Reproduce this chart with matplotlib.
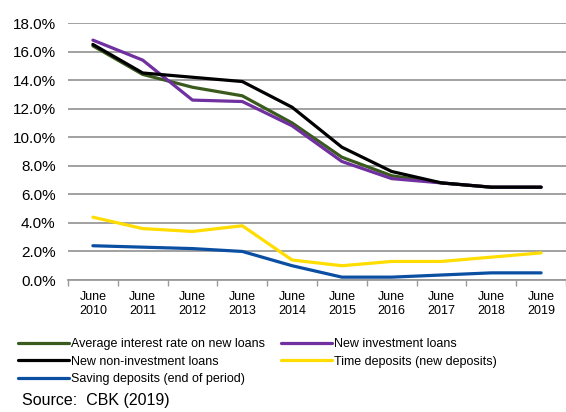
import matplotlib
matplotlib.use("Agg")
import matplotlib.pyplot as plt
import numpy as np

plt.rcParams['font.family'] = ['Liberation Sans', 'DejaVu Sans']

years = ["June\n2010", "June\n2011", "June\n2012", "June\n2013", "June\n2014",
         "June\n2015", "June\n2016", "June\n2017", "June\n2018", "June\n2019"]
avg_new_loans = [16.4, 14.4, 13.5, 12.9, 11.0, 8.6, 7.3, 6.8, 6.5, 6.5]
new_invest = [16.8, 15.4, 12.6, 12.5, 10.8, 8.3, 7.1, 6.8, 6.5, 6.5]
new_noninvest = [16.5, 14.5, 14.2, 13.9, 12.1, 9.3, 7.6, 6.8, 6.5, 6.5]
time_dep = [4.4, 3.6, 3.4, 3.8, 1.4, 1.0, 1.3, 1.3, 1.6, 1.9]
saving_dep = [2.4, 2.3, 2.2, 2.0, 1.0, 0.2, 0.2, 0.35, 0.5, 0.5]

labels = ["Average interest rate on new loans", "New investment loans",
          "New non-investment loans", "Time deposits (new deposits)",
          "Saving deposits (end of period)"]
colors = ["#3A5A1E", "#7030A0", "#000000", "#FFDD00", "#0B4FA3"]
series = [avg_new_loans, new_invest, new_noninvest, time_dep, saving_dep]

fig = plt.figure(figsize=(5.66, 4.12), dpi=100)
ax = fig.add_axes([68/566, 1-280/412, 498/566, (280-23)/412])

x = np.arange(len(years))
lines = {}
for lab, col, s in zip(labels, colors, series):
    lines[lab], = ax.plot(x, s, color=col, lw=2.3, solid_capstyle='round', zorder=3)

ax.set_xlim(-0.5, len(years) - 0.5)
ax.set_ylim(0, 18)
ax.set_yticks(np.arange(0, 18.1, 2))
ax.set_yticklabels([f"{v:.1f}%" for v in np.arange(0, 18.1, 2)], fontsize=11)
ax.yaxis.grid(True, color="#9a9a9a", lw=1.3)
ax.set_axisbelow(True)
ax.tick_params(axis='y', length=0, pad=9)
ax.set_xticks(x)
ax.set_xticklabels(years, fontsize=9, linespacing=1.2)
ax.set_xticks(np.arange(-0.5, len(years), 1), minor=True)
ax.tick_params(axis='x', which='major', length=0, pad=8)
ax.tick_params(axis='x', which='minor', length=4, color="#9a9a9a", width=1)
for sp in ['left', 'right', 'top']:
    ax.spines[sp].set_visible(False)
ax.spines['bottom'].set_color("#9a9a9a")
ax.spines['bottom'].set_linewidth(1.3)

order = [labels[0], labels[2], labels[4], labels[1], labels[3]]
fig.legend([lines[l] for l in order], order, loc='upper left',
           bbox_to_anchor=(13/566, 1-333/412), ncol=2, frameon=False,
           fontsize=9, handlelength=4.1, handletextpad=0.15,
           columnspacing=1.25, labelspacing=0.45, borderaxespad=0)

fig.text(22/566, 1-401/412, "Source:  CBK (2019)", fontsize=11.5, va='center')

fig.savefig("out.png", dpi=100)
